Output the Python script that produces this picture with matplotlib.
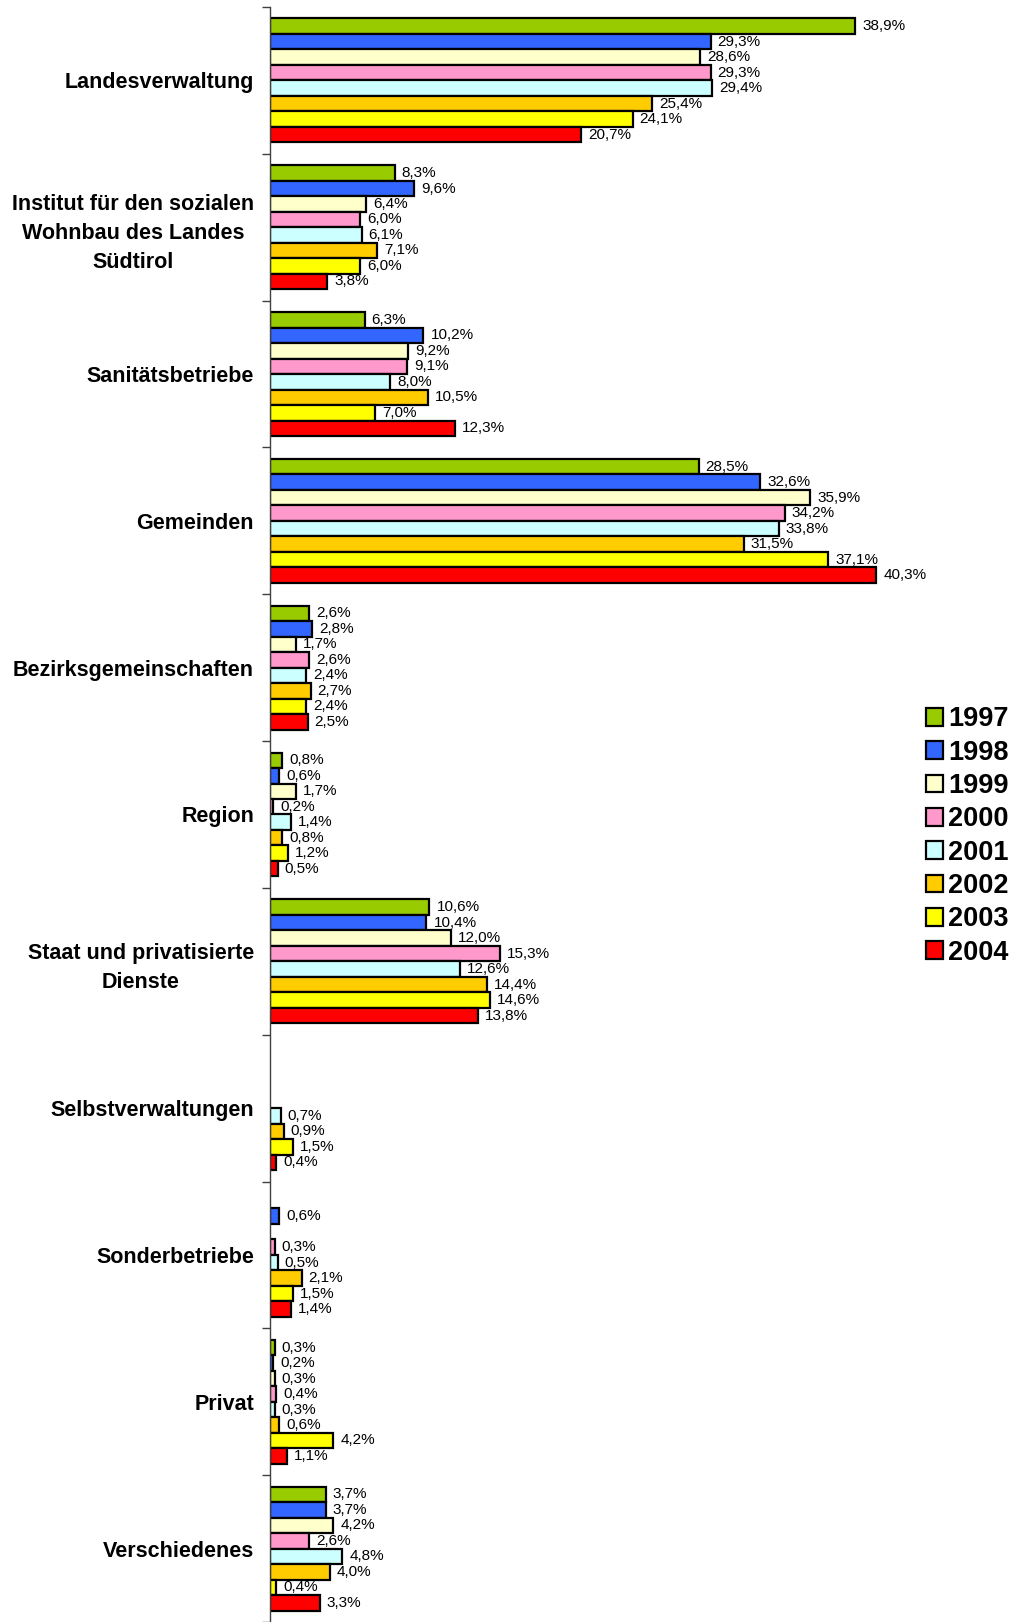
import numpy as np
import matplotlib.pyplot as plt
from matplotlib.patches import Patch

plt.rcParams['font.family'] = ['Liberation Sans', 'DejaVu Sans']

categories = ['Landesverwaltung',
              'Institut für den sozialen\nWohnbau des Landes\nSüdtirol',
              'Sanitätsbetriebe', 'Gemeinden', 'Bezirksgemeinschaften', 'Region',
              'Staat und privatisierte\nDienste',
              'Selbstverwaltungen', 'Sonderbetriebe', 'Privat', 'Verschiedenes']
years = ['1997', '1998', '1999', '2000', '2001', '2002', '2003', '2004']
colors = ['#99CC00', '#3366FF', '#FFFFCC', '#FF99CC', '#CCFFFF', '#FFCC00', '#FFFF00', '#FF0000']

nan = np.nan
# share per year (%), one list per category in the order of years
landesverwaltung = [38.9, 29.3, 28.6, 29.3, 29.4, 25.4, 24.1, 20.7]
wohnbau = [8.3, 9.6, 6.4, 6.0, 6.1, 7.1, 6.0, 3.8]
sanitaet = [6.3, 10.2, 9.2, 9.1, 8.0, 10.5, 7.0, 12.3]
gemeinden = [28.5, 32.6, 35.9, 34.2, 33.8, 31.5, 37.1, 40.3]
bezirk = [2.6, 2.8, 1.7, 2.6, 2.4, 2.7, 2.4, 2.5]
region = [0.8, 0.6, 1.7, 0.2, 1.4, 0.8, 1.2, 0.5]
staat = [10.6, 10.4, 12.0, 15.3, 12.6, 14.4, 14.6, 13.8]
selbst = [nan, nan, nan, nan, 0.7, 0.9, 1.5, 0.4]
sonder = [nan, 0.6, nan, 0.3, 0.5, 2.1, 1.5, 1.4]
privat = [0.3, 0.2, 0.3, 0.4, 0.3, 0.6, 4.2, 1.1]
verschiedenes = [3.7, 3.7, 4.2, 2.6, 4.8, 4.0, 0.4, 3.3]

values = np.array([landesverwaltung, wohnbau, sanitaet, gemeinden, bezirk, region,
                   staat, selbst, sonder, privat, verschiedenes])

fig = plt.figure(figsize=(10.15, 16.22), dpi=100)
ax = fig.add_axes([270 / 1015, 0.0, 677 / 1015, 1 - 7 / 1622])

n_cat = len(categories)
h = 0.1055
pos = np.arange(n_cat)
for j, year in enumerate(years):
    y = pos + (j - 3.5) * h
    col = values[:, j]
    ax.barh(y, col, height=h, color=colors[j], edgecolor='black', linewidth=1.6)
    for yy, v in zip(y, col):
        if np.isnan(v):
            continue
        ax.annotate(f'{v:.1f}%'.replace('.', ','), (v, yy), xytext=(5, 0),
                    textcoords='offset points', ha='left', va='center', fontsize=11)

ax.set_xlim(0, 45)
ax.set_ylim(n_cat - 0.5, -0.5)

for s in ['top', 'right', 'bottom']:
    ax.spines[s].set_visible(False)
ax.spines['left'].set_color('#404040')
ax.spines['left'].set_linewidth(1.0)
ax.set_xticks([])

ax.set_yticks(np.arange(-0.5, n_cat, 1.0))
ax.set_yticklabels([])
ax.tick_params(axis='y', which='major', length=6, width=1.0, color='#404040', direction='out')
ax.set_yticks(pos, minor=True)
ax.set_yticklabels(categories, minor=True, fontsize=15.5, fontweight='bold',
                   multialignment='center', linespacing=1.5)
ax.tick_params(axis='y', which='minor', length=0, pad=11.5)

handles = [Patch(facecolor=c, edgecolor='black', linewidth=1.6) for c in colors]
fig.legend(handles, years, loc='center left', bbox_to_anchor=(926 / 1015, 1 - 836 / 1622),
           frameon=False, prop={'size': 19.5, 'weight': 'bold'},
           handlelength=0.62, handleheight=0.62, handletextpad=0.2,
           labelspacing=0.27, borderpad=0, borderaxespad=0)

fig.savefig('out.png', dpi=100)
